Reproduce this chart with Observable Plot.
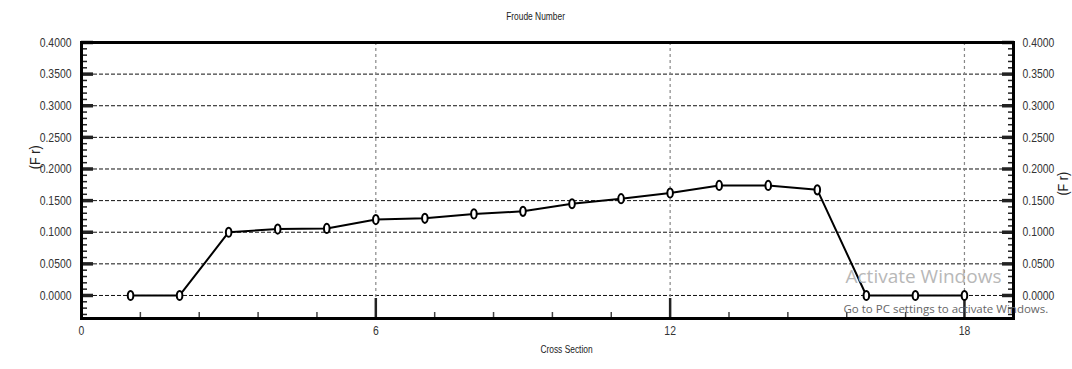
<!DOCTYPE html>
<html>
<head>
<meta charset="utf-8">
<script src="https://cdn.jsdelivr.net/npm/d3@7"></script>
<script src="https://cdn.jsdelivr.net/npm/@observablehq/plot@0.6"></script>
<style>
  html, body { margin: 0; padding: 0; background: #fff; }
  #chart { width: 1072px; height: 369px; }
</style>
</head>
<body>
<div id="chart"></div>
<script>
// ---- data ----
const sections = [1, 2, 3, 4, 5, 6, 7, 8, 9, 10, 11, 12, 13, 14, 15, 16, 17, 18];
const froude = [0, 0, 0.100, 0.105, 0.106, 0.120, 0.122, 0.129, 0.133, 0.145, 0.153, 0.162, 0.174, 0.174, 0.167, 0, 0, 0];
const xTickValues = [0, 6, 12, 18];
const xGridValues = [6, 12, 18];
const yTickValues = [0, 0.05, 0.10, 0.15, 0.20, 0.25, 0.30, 0.35, 0.40];
const yGridValues = [0, 0.05, 0.10, 0.15, 0.20, 0.25, 0.30, 0.35];
const titleText = "Froude Number";
const xLabelText = "Cross Section";
const yLabelText = "(F r)";
const watermark1 = "Activate Windows";
const watermark2 = "Go to PC settings to activate Windows.";

const yMinorTicks = d3.range(-3, 40).filter(i => i % 5 !== 0).map(i => i / 100);
const xMinorTicks = d3.range(1, 16).filter(i => i % 5 !== 0).map(i => +(i * 1.2).toFixed(2));

const rows = sections.map((s, i) => ({section: s, fr: froude[i]}));

// ellipse marker symbol (tall, narrow open circle)
const ellipseSymbol = {
  draw(ctx, size) {
    const r = Math.sqrt(size / Math.PI);
    const rx = r * 0.7, ry = r * 1.15, k = 0.5523;
    ctx.moveTo(0, -ry);
    ctx.bezierCurveTo(k * rx, -ry, rx, -k * ry, rx, 0);
    ctx.bezierCurveTo(rx, k * ry, k * rx, ry, 0, ry);
    ctx.bezierCurveTo(-k * rx, ry, -rx, k * ry, -rx, 0);
    ctx.bezierCurveTo(-rx, -k * ry, -k * rx, -ry, 0, -ry);
    ctx.closePath();
  }
};

const font = "'Liberation Sans', Arial, sans-serif";
const fmt = d3.format(".4f");
const blank = () => "";

const chart = Plot.plot({
  width: 1072,
  height: 369,
  marginLeft: 81,
  marginRight: 59,
  marginTop: 42,
  marginBottom: 51,
  style: {fontFamily: font, fontSize: "13px", color: "#222", background: "#fff", overflow: "visible"},
  x: {domain: [0, 19]},
  y: {domain: [-0.0364, 0.4]},
  marks: [
    // grid
    Plot.gridY(yGridValues, {stroke: "#111", strokeOpacity: 1, strokeWidth: 1, strokeDasharray: "4,2"}),
    Plot.gridX(xGridValues, {stroke: "#888", strokeOpacity: 1, strokeWidth: 1.2, strokeDasharray: "3,3"}),
    // y minor ticks, both sides (inward)
    Plot.axisY(yMinorTicks, {anchor: "left", tickSize: -6, strokeWidth: 1.5, tickFormat: blank, label: null}),
    Plot.axisY(yMinorTicks, {anchor: "right", tickSize: -6, strokeWidth: 1.5, tickFormat: blank, label: null}),
    // y major ticks, both sides (inward, thick)
    Plot.axisY(yTickValues, {anchor: "left", tickSize: -12, strokeWidth: 3.5, tickFormat: blank, label: null}),
    Plot.axisY(yTickValues, {anchor: "right", tickSize: -12, strokeWidth: 3.5, tickFormat: blank, label: null}),
    // y labels
    Plot.axisY(yTickValues, {anchor: "left", tickSize: 0, tickPadding: 10, tickFormat: fmt, label: null, fill: "#333"}),
    Plot.axisY(yTickValues, {anchor: "right", tickSize: 0, tickPadding: 9, tickFormat: fmt, label: null, fill: "#333"}),
    // x ticks (inward)
    Plot.axisX(xMinorTicks, {anchor: "bottom", tickSize: -6, strokeWidth: 1.5, stroke: "#444", tickFormat: blank, label: null}),
    Plot.axisX(xGridValues, {anchor: "bottom", tickSize: -20, strokeWidth: 2.5, tickFormat: blank, label: null}),
    Plot.axisX(xTickValues, {anchor: "bottom", tickSize: 0, tickPadding: 7, label: null, fill: "#333"}),
    // frame
    Plot.frame({stroke: "#000", strokeWidth: 3}),
    // data
    Plot.line(rows, {x: "section", y: "fr", stroke: "#000", strokeWidth: 2}),
    Plot.dot(rows, {x: "section", y: "fr", r: 4, symbol: ellipseSymbol, fill: "#fff", stroke: "#000", strokeWidth: 2}),
    // titles
    Plot.text([titleText], {frameAnchor: "top", dx: -12, dy: -30, fontSize: 10.5, fill: "#222"}),
    Plot.text([xLabelText], {frameAnchor: "bottom", dx: 19, dy: 34, fontSize: 10.5, fill: "#222"}),
    Plot.text([yLabelText], {frameAnchor: "left", dx: -46, dy: -10, rotate: -90, fontSize: 14, fill: "#222"}),
    Plot.text([yLabelText], {frameAnchor: "right", dx: 50, dy: -10, rotate: -90, fontSize: 14, fill: "#222"}),
    // watermark
    Plot.text([watermark1], {frameAnchor: "bottom-right", textAnchor: "start", dx: -168, dy: -42, fontSize: 19, fill: "#b8b8b8", fontFamily: "'Open Sans', sans-serif", lineAnchor: "middle"}),
    Plot.text([watermark2], {frameAnchor: "bottom-right", textAnchor: "start", dx: -170, dy: -9, fontSize: 11.5, fill: "#666", fontFamily: "'Open Sans', sans-serif", lineAnchor: "middle"})
  ]
});
document.getElementById("chart").appendChild(chart);

// Narrow the chart's text (the reference uses a condensed face) by scaling each
// label along its reading direction about its anchor point.
const NS = "http://www.w3.org/2000/svg";
const squeeze = 0.8;
chart.querySelectorAll("text").forEach(t => {
  const txt = t.textContent;
  if (txt === watermark1 || txt === watermark2 || txt === "") return;
  const r = t.getBoundingClientRect();
  const anchor = getComputedStyle(t).textAnchor;
  const rotated = /rotate/.test(t.getAttribute("transform") || "");
  const g = document.createElementNS(NS, "g");
  t.parentNode.insertBefore(g, t);
  g.appendChild(t);
  let ax, ay, sx = 1, sy = 1;
  if (rotated) {
    ax = r.left + r.width / 2; ay = r.top + r.height / 2; sy = 0.9;
  } else {
    ax = anchor === "end" ? r.right : anchor === "start" ? r.left : r.left + r.width / 2;
    ay = r.top + r.height / 2; sx = squeeze;
  }
  const p = new DOMPoint(ax, ay).matrixTransform(g.getScreenCTM().inverse());
  g.setAttribute("transform", `translate(${p.x},${p.y}) scale(${sx},${sy}) translate(${-p.x},${-p.y})`);
});
</script>
</body>
</html>
